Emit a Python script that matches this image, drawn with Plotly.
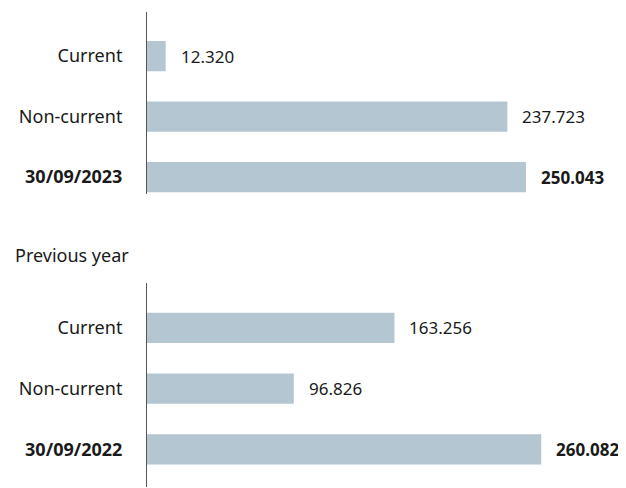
"""Horizontal bar chart of current / non-current amounts, this year vs previous year."""

import plotly.graph_objects as go

BAR_COLOR = "#b4c6d2"
TEXT_COLOR = "#1a1a1a"
FONT = "Noto Sans"

categories_2023 = ["Current", "Non-current", "<b>30/09/2023</b>"]
values_2023 = [12.320, 237.723, 250.043]
labels_2023 = ["12.320", "237.723", "<b>250.043</b>"]

categories_2022 = ["Current", "Non-current", "<b>30/09/2022</b>"]
values_2022 = [163.256, 96.826, 260.082]
labels_2022 = ["163.256", "96.826", "<b>260.082</b>"]

# the page puts the figure 8px in from the top-left corner
W, H = 618, 480
LEFT = 139

fig = go.Figure()

panels = [
    ("x", "y", categories_2023, values_2023, labels_2023),
    ("x2", "y2", categories_2022, values_2022, labels_2022),
]
for xref, yref, cats, vals, labs in panels:
    fig.add_trace(
        go.Bar(
            x=vals,
            y=cats,
            orientation="h",
            marker={"color": BAR_COLOR, "line": {"width": 0}},
            width=0.5,
            xaxis=xref,
            yaxis=yref,
            hoverinfo="skip",
        )
    )
    for v, c, lab in zip(vals, cats, labs):
        fig.add_annotation(
            x=v, y=c, xref=xref, yref=yref, text=lab, showarrow=False,
            xanchor="left", xshift=13, font={"size": 17, "color": TEXT_COLOR},
        )

axis_common = dict(
    showgrid=False, zeroline=False, showticklabels=False, showline=False,
    range=[0, 316], fixedrange=True,
)
yaxis_common = dict(
    showline=True, linecolor="#555555", linewidth=1, showgrid=False,
    ticks="", ticklabelstandoff=20, automargin=False,
    tickfont={"size": 18, "color": TEXT_COLOR},
)
fig.update_layout(
    xaxis=dict(domain=[0, 1], anchor="y", **axis_common),
    xaxis2=dict(domain=[0, 1], anchor="y2", **axis_common),
    yaxis=dict(domain=[1 - 186 / H, 1 - 4 / H], anchor="x", range=[2.28, -0.73], **yaxis_common),
    yaxis2=dict(domain=[1 - 479 / H, 1 - 275 / H], anchor="x2", range=[2.62, -0.74], **yaxis_common),
    annotations=list(fig.layout.annotations) + [
        dict(
            text="Previous year", x=(5 - LEFT) / (W - LEFT), y=1 - 247 / H,
            xref="paper", yref="paper", xanchor="left", yanchor="middle",
            showarrow=False, font={"size": 18, "color": TEXT_COLOR},
        )
    ],
    showlegend=False,
    width=W,
    height=H,
    margin={"l": LEFT, "r": 0, "t": 0, "b": 0},
    paper_bgcolor="white",
    plot_bgcolor="white",
    font={"family": FONT, "color": TEXT_COLOR},
    bargap=0.5,
)

fig.write_html("out.html")
